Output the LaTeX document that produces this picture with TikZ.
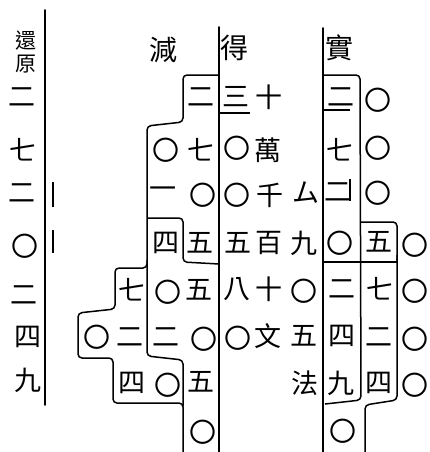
\documentclass[tikz,border=0pt]{standalone}
\usepackage{fontspec}
\newfontfamily\cjk{Noto Sans CJK TC}
\begin{document}
\begin{tikzpicture}[x=1pt,y=-1pt,
  ch/.style={font=\cjk\fontsize{27}{27}\selectfont, inner sep=0pt, anchor=center},
  sm/.style={font=\cjk\fontsize{21}{21}\selectfont, inner sep=0pt, anchor=center},
  hd/.style={font=\cjk\fontsize{28}{28}\selectfont, inner sep=0pt, anchor=center},
  rule/.style={line width=1.7pt, line cap=round},
  outline/.style={line width=1.5pt, rounded corners=4pt, line join=round}]
\useasboundingbox (0,0) rectangle (430,452);
% main vertical rules
\coordinate (lt) at (45,10);   \coordinate (lb) at (45,405);
\coordinate (mt) at (219,27);  \coordinate (mb) at (219,452);
\coordinate (rt) at (323,28);  \coordinate (rb) at (323,452);
\draw[rule] (lt) -- (lb);
\draw[rule] (mt) -- (mb);
\draw[rule] (rt) -- (rb);
% small ticks
\coordinate (t1a) at (53,182); \coordinate (t1b) at (53,207);
\coordinate (t2a) at (53,230); \coordinate (t2b) at (53,253);
\coordinate (t3a) at (350,179); \coordinate (t3b) at (350,201);
\draw[line width=1.3pt] (t1a) -- (t1b);
\draw[line width=1.3pt] (t2a) -- (t2b);
\draw[line width=1.3pt] (t3a) -- (t3b);
% jian outline
\draw[outline] (219,75) -- (183,75) -- (183,122) -- (147,126) -- (147,268) -- (115,268)
  -- (115,309) -- (78,313) -- (78,358) -- (113,358) -- (113,403) -- (183,403) -- (183,452);
\draw[outline] (147,218) -- (183,218) -- (183,262) -- (219,264);
\draw[outline] (147,260) -- (147,356) -- (183,360) -- (183,406);
% de underline
\draw[outline] (219,113) -- (250,113);
% shi outline
\draw[outline] (323,75) -- (360,75) -- (361,400) -- (325,404);
\draw[outline] (323,110) -- (350,110);
\draw[outline] (361,222) -- (397,222) -- (397,262);
\draw[outline] (323,262) -- (397,262);
\draw[outline] (397,255) -- (397,400) -- (365,405) -- (365,452);
% headers
\node[sm] (huan) at (26,41) {還};
\node[sm] (yuan) at (26,64) {原};
\node[hd] (jian) at (163,50) {減};
\node[hd] (de) at (234,48) {得};
\node[hd] (shi) at (339,48) {實};
% left column
\node[ch] (L1) at (22,97) {二};
\node[ch] (L2) at (23,150) {七};
\node[ch] (L3) at (22,193) {二};
\node[ch] (L4) at (25,246) {〇};
\node[ch] (L5) at (24,295) {二};
\node[ch] (L6) at (28,337) {四};
\node[ch] (L7) at (28,380) {九};
% jian block
\node[ch] (D1) at (201,97) {二};
\node[ch] (C2) at (166,150) {〇};
\node[ch] (D2) at (201,150) {七};
\node[ch] (C3) at (163,193) {一};
\node[ch] (D3) at (203,195) {〇};
\node[ch] (C4) at (166,243) {四};
\node[ch] (D4) at (200,243) {五};
\node[ch] (B5) at (132,290) {七};
\node[ch] (C5) at (168,292) {〇};
\node[ch] (D5) at (199,290) {五};
\node[ch] (A6) at (97,337) {〇};
\node[ch] (B6) at (130,337) {二};
\node[ch] (C6) at (166,337) {二};
\node[ch] (D6) at (204,339) {〇};
\node[ch] (B7) at (132,383) {四};
\node[ch] (C7) at (168,385) {〇};
\node[ch] (D7) at (201,382) {五};
\node[ch] (D8) at (203,432) {〇};
% de block
\node[ch] (E1) at (236,97) {三};
\node[ch] (F1) at (269,97) {十};
\node[ch] (E2) at (237,148) {〇};
\node[ch] (F2) at (268,150) {萬};
\node[ch] (E3) at (237,195) {〇};
\node[ch] (F3) at (270,195) {千};
\node[ch] (G3) at (306,193) {ム};
\node[ch] (E4) at (238,243) {五};
\node[ch] (F4) at (269,243) {百};
\node[ch] (G4) at (304,243) {九};
\node[ch] (E5) at (237,289) {八};
\node[ch] (F5) at (269,289) {十};
\node[ch] (G5) at (304,291) {〇};
\node[ch] (E6) at (238,338) {〇};
\node[ch] (F6) at (268,336) {文};
\node[ch] (G6) at (304,336) {五};
\node[ch] (G7) at (305,383) {法};
% shi block
\node[ch] (H1) at (341,97) {二};
\node[ch] (I1) at (378,100) {〇};
\node[ch] (H2) at (340,150) {七};
\node[ch] (I2) at (378,148) {〇};
\node[ch] (H3) at (338,192) {二};
\node[ch] (I3) at (378,193) {〇};
\node[ch] (H4) at (340,243) {〇};
\node[ch] (I4) at (379,242) {五};
\node[ch] (J4) at (415,245) {〇};
\node[ch] (H5) at (342,289) {二};
\node[ch] (I5) at (380,289) {七};
\node[ch] (J5) at (415,291) {〇};
\node[ch] (H6) at (342,336) {四};
\node[ch] (I6) at (379,337) {二};
\node[ch] (J6) at (415,339) {〇};
\node[ch] (H7) at (341,383) {九};
\node[ch] (I7) at (379,383) {四};
\node[ch] (J7) at (415,385) {〇};
\node[ch] (H8) at (343,431) {〇};
\end{tikzpicture}
\end{document}
